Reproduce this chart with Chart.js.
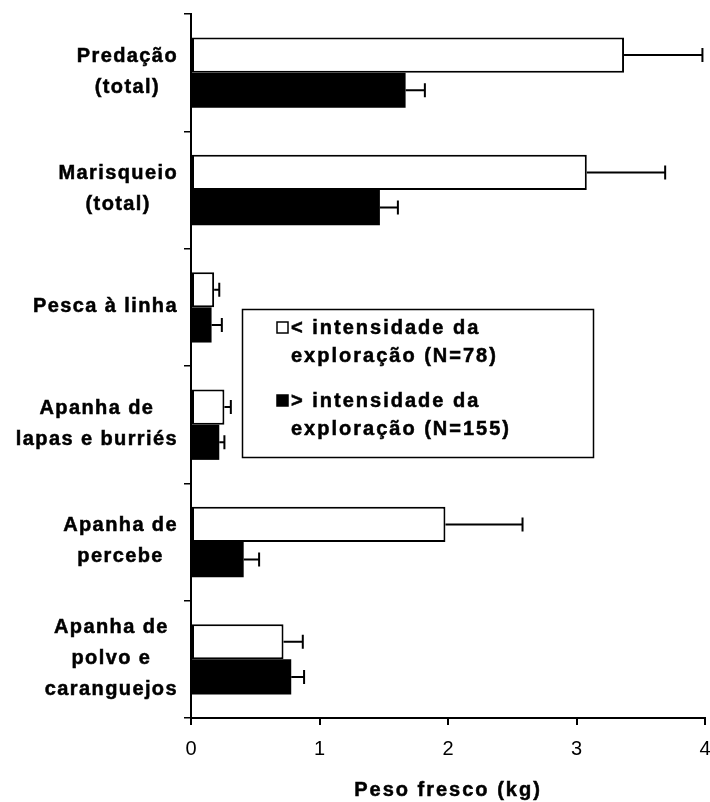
<!DOCTYPE html>
<html>
<head>
<meta charset="utf-8">
<script src="https://cdn.jsdelivr.net/npm/chart.js@4/dist/chart.umd.min.js"></script>
<style>html,body{margin:0;padding:0;background:#fff;}</style>
</head>
<body>
<canvas id="c" width="710" height="802"></canvas>
<script>
// ---- data ----
const categories = [
  ['Predação', '(total)'],
  ['Marisqueio', '(total)'],
  ['Pesca à linha'],
  ['Apanha de', 'lapas e burriés'],
  ['Apanha de', 'percebe'],
  ['Apanha de', 'polvo e', 'caranguejos']
];
const lowIntensity    = [3.37, 3.08, 0.18, 0.26, 1.98, 0.72];
const lowIntensityErr = [0.61, 0.61, 0.04, 0.05, 0.60, 0.15];
const highIntensity    = [1.67, 1.47, 0.16, 0.22, 0.41, 0.78];
const highIntensityErr = [0.15, 0.14, 0.08, 0.04, 0.12, 0.10];
const seriesLabels = [
  ['< intensidade da', 'exploração (N=78)'],
  ['> intensidade da', 'exploração (N=155)']
];
const xTicks = [0, 1, 2, 3, 4];
const xTitle = 'Peso fresco (kg)';
const errors = [lowIntensityErr, highIntensityErr];

const FONT = "'Liberation Sans', Arial, sans-serif";

function boldText(ctx, t, x, y) {
  ctx.fillText(t, x, y);
  ctx.strokeText(t, x, y);
}

const customDraw = {
  id: 'customDraw',
  afterDatasetsDraw(chart) {
    const ctx = chart.ctx;
    const xs = chart.scales.x;
    ctx.save();
    ctx.strokeStyle = '#000';
    ctx.lineWidth = 2;
    chart.data.datasets.forEach((ds, di) => {
      const meta = chart.getDatasetMeta(di);
      meta.data.forEach((bar, i) => {
        const p = bar.getProps(['x', 'y', 'height'], true);
        const x0 = p.x;
        const x1 = xs.getPixelForValue(ds.data[i] + errors[di][i]);
        const cap = 7;
        ctx.beginPath();
        ctx.moveTo(x0, p.y);
        ctx.lineTo(x1, p.y);
        ctx.moveTo(x1, p.y - cap);
        ctx.lineTo(x1, p.y + cap);
        ctx.stroke();
      });
    });
    ctx.restore();
  },
  afterDraw(chart) {
    const ctx = chart.ctx;
    const ys = chart.scales.y;
    const area = chart.chartArea;
    ctx.save();
    ctx.fillStyle = '#000';
    ctx.strokeStyle = '#000';
    ctx.lineWidth = 0.5;
    ctx.letterSpacing = '1.4px';
    ctx.font = 'bold 20px ' + FONT;
    ctx.textBaseline = 'middle';
    ctx.textAlign = 'center';
    // category labels: block right-aligned, lines centered inside block
    const rightEdge = 178;
    const lh = 31;
    categories.forEach((lines, i) => {
      const cy = ys.getPixelForValue(i) - 1;
      const w = Math.max(...lines.map(l => ctx.measureText(l).width));
      const cx = rightEdge - w / 2;
      const y0 = cy - (lines.length - 1) * lh / 2;
      lines.forEach((l, k) => boldText(ctx, l, cx, y0 + k * lh));
    });
    // axis title
    ctx.letterSpacing = '2px';
    boldText(ctx, xTitle, (area.left + area.right) / 2, 790);
    // legend
    ctx.lineWidth = 1.5;
    ctx.strokeRect(242.5, 309.5, 351, 148);
    ctx.textAlign = 'left';
    const legendY = [328, 401];
    chart.data.datasets.forEach((ds, di) => {
      const y = legendY[di];
      ctx.fillStyle = ds.backgroundColor;
      ctx.fillRect(277, y - 6, 11, 11);
      ctx.lineWidth = 1.5;
      ctx.strokeRect(277, y - 6, 11, 11);
      ctx.fillStyle = '#000';
      ctx.lineWidth = 0.5;
      boldText(ctx, seriesLabels[di][0], 291, y);
      boldText(ctx, seriesLabels[di][1], 291, y + 28);
    });
    ctx.restore();
  }
};

new Chart(document.getElementById('c'), {
  type: 'bar',
  data: {
    labels: categories,
    datasets: [
      {
        label: seriesLabels[0].join(' '),
        data: lowIntensity,
        backgroundColor: '#ffffff',
        borderColor: '#000000',
        borderWidth: 2,
        borderSkipped: false,
        categoryPercentage: 0.6,
        barPercentage: 1.0
      },
      {
        label: seriesLabels[1].join(' '),
        data: highIntensity,
        backgroundColor: '#000000',
        borderWidth: 0,
        categoryPercentage: 0.6,
        barPercentage: 1.0
      }
    ]
  },
  options: {
    responsive: false,
    animation: false,
    indexAxis: 'y',
    layout: { padding: { top: 14, right: 5, left: 0, bottom: 0 } },
    plugins: { legend: { display: false }, tooltip: { enabled: false } },
    scales: {
      x: {
        min: 0, max: 4,
        afterBuildTicks: s => { s.ticks = xTicks.map(v => ({ value: v })); },
        ticks: { font: { family: FONT, size: 20 }, color: '#000', padding: 12, maxRotation: 0 },
        grid: { drawOnChartArea: false, drawTicks: true, tickLength: 7, color: '#000', lineWidth: 2 },
        border: { display: true, color: '#000', width: 2 },
        afterFit: s => { s.height = 84; s.paddingLeft = 0; s.paddingRight = 0; }
      },
      y: {
        ticks: { display: false },
        grid: { drawOnChartArea: false, drawTicks: true, tickLength: 7, color: '#000', lineWidth: 1.5, offset: true },
        border: { display: true, color: '#000', width: 2 },
        afterFit: s => { s.width = 191; s.paddingTop = 0; s.paddingBottom = 0; }
      }
    }
  },
  plugins: [customDraw]
});
</script>
</body>
</html>
